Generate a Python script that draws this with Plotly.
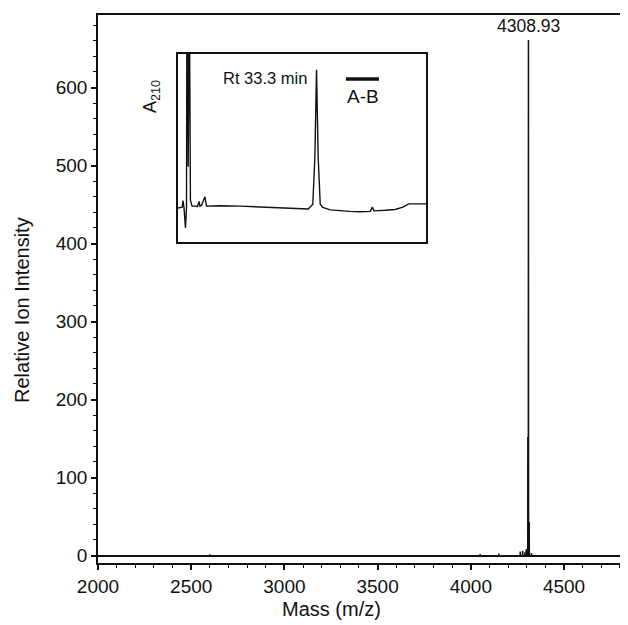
import plotly.graph_objects as go

# ---- Main mass spectrum (stick peaks: mass, relative intensity) ----
peak_mass = [2600, 4050, 4150, 4265, 4278, 4290, 4297, 4306.0, 4308.93, 4313.0, 4325]
peak_int = [1.5, 2.0, 2.5, 5, 6, 4, 8, 152, 661, 43, 3]
main_label = "4308.93"
main_label_mass = 4308.93
main_label_int = 661

x_range = [2000, 4843]
y_range = [-9.6, 693]
x_ticks = [2000, 2500, 3000, 3500, 4000, 4500]
y_ticks = [0, 100, 200, 300, 400, 500, 600]

# ---- Inset HPLC chromatogram (time in min, absorbance a.u.) ----
hplc_time = [0, 1.0, 1.2, 1.45, 1.8, 2.05, 2.15, 2.3, 2.45, 2.6, 2.75, 3.0, 3.4, 4.1, 4.7,
             5.1, 5.3, 5.7, 6.3, 6.5, 6.9, 10.2, 15.0, 19.8, 24.7, 29.5, 31.5, 32.6,
             33.1, 33.5, 33.9, 34.4, 35.0, 36.8, 39.2, 41.6, 44.0, 46.5, 47.0, 47.4,
             50.1, 52.5, 54.4, 55.8, 60.0]
hplc_abs = [18.0, 18.5, 22.0, 18.0, 7.4, 18.0, 130, 130, 40, 130, 130, 22.0, 19.0, 19.0,
            18.8, 21.5, 19.0, 19.5, 22.5, 24.0, 19.0, 19.2, 19.0, 18.5, 17.9, 17.6,
            17.5, 20.0, 45.0, 91.5, 45.0, 20.0, 18.3, 17.0, 16.5, 16.2, 16.0, 16.2,
            18.5, 16.5, 16.8, 17.2, 18.5, 20.2, 20.2]
inset_x_range = [0, 60]
inset_y_range = [0, 100]

FONT = "Liberation Sans, Arial, Helvetica, sans-serif"
INK = "#111111"

# build stick spectrum from peak list
sx, sy = [], []
for m, h in zip(peak_mass, peak_int):
    sx += [m - 0.8, m, m + 0.8, None]
    sy += [0, h, 0, None]

fig = go.Figure()
fig.add_trace(go.Scatter(x=sx, y=sy, mode="lines", line=dict(color=INK, width=1.5),
                         hoverinfo="skip", showlegend=False, connectgaps=False))
fig.add_trace(go.Scatter(x=hplc_time, y=hplc_abs, mode="lines",
                         line=dict(color=INK, width=1.4),
                         xaxis="x2", yaxis="y2", showlegend=False, hoverinfo="skip"))

axis_common = dict(showgrid=False, color=INK, linecolor=INK, linewidth=1.5,
                   tickfont=dict(family=FONT, size=19, color=INK))

# the page body has an 8px default margin, so the figure is 8px smaller
fig.update_layout(
    width=620, height=617, autosize=False,
    margin=dict(l=90, r=0, t=7, b=62),
    paper_bgcolor="white", plot_bgcolor="white",
    font=dict(family=FONT, color=INK),
    xaxis=dict(range=x_range, tickvals=x_ticks, ticks="outside", ticklen=5, tickwidth=1.5,
               tickcolor=INK, showline=True, mirror=True, zeroline=False,
               minor=dict(dtick=100, tick0=2000, ticks="outside", ticklen=3,
                          tickwidth=1.2, tickcolor=INK),
               **axis_common),
    yaxis=dict(range=y_range, tickvals=y_ticks, ticks="outside", ticklen=5, tickwidth=1.5,
               tickcolor=INK, showline=True, mirror=False,
               zeroline=True, zerolinecolor=INK, zerolinewidth=1.5,
               minor=dict(dtick=20, tick0=0, ticks="outside", ticklen=3,
                          tickwidth=1.2, tickcolor=INK),
               **axis_common),
    xaxis2=dict(domain=[0.151, 0.619], anchor="y2", range=inset_x_range,
                showticklabels=False, ticks="", showgrid=False, zeroline=False,
                showline=True, mirror=True, linecolor=INK, linewidth=1.5),
    yaxis2=dict(domain=[0.586, 0.929], anchor="x2", range=inset_y_range,
                showticklabels=False, ticks="", showgrid=False, zeroline=False,
                showline=True, mirror=True, linecolor=INK, linewidth=1.5),
)

annotations = [
    dict(text=main_label, x=main_label_mass, y=main_label_int, xref="x", yref="y",
         showarrow=False, yanchor="bottom", yshift=2,
         font=dict(family=FONT, size=17.5, color=INK)),
    dict(text="Mass (m/z)", x=0.4406, y=-0.0839, xref="paper", yref="paper",
         showarrow=False, xanchor="center", yanchor="middle",
         font=dict(family=FONT, size=20, color=INK)),
    dict(text="Relative Ion Intensity", x=-0.1434, y=0.4617, xref="paper", yref="paper",
         showarrow=False, textangle=-90, xanchor="center", yanchor="middle",
         font=dict(family=FONT, size=20, color=INK)),
    dict(text="Rt 33.3 min", x=21.0, y=87.2, xref="x2", yref="y2", showarrow=False,
         font=dict(family=FONT, size=16.5, color=INK)),
    dict(text="A-B", x=44.8, y=77.1, xref="x2", yref="y2", showarrow=False,
         font=dict(family=FONT, size=19, color=INK)),
    dict(text="A<sub>210</sub>", x=0.1019, y=0.8504, xref="paper", yref="paper",
         showarrow=False, textangle=-90, xanchor="center", yanchor="middle",
         font=dict(family=FONT, size=18, color=INK)),
]
fig.update_layout(annotations=annotations)

# legend-style bar above "A-B"
fig.add_shape(type="line", xref="x2", yref="y2", x0=40.6, x1=48.6, y0=86.7, y1=86.7,
              line=dict(color=INK, width=3.5))

fig.write_html("out.html")
